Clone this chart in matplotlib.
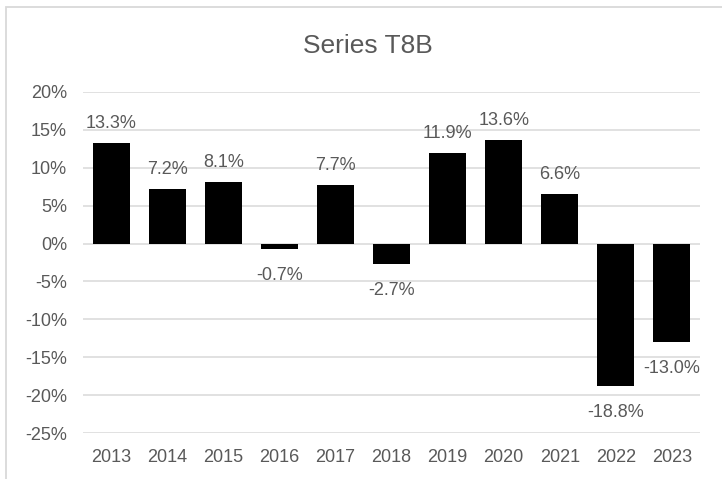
import matplotlib.pyplot as plt
import matplotlib.patches as patches
import numpy as np

plt.rcParams['font.family'] = ['Liberation Sans', 'DejaVu Sans']

anios = ['2013', '2014', '2015', '2016', '2017', '2018', '2019', '2020', '2021', '2022', '2023']
valores = [13.3, 7.2, 8.1, -0.7, 7.7, -2.7, 11.9, 13.6, 6.6, -18.8, -13.0]
marcas_y = [20, 15, 10, 5, 0, -5, -10, -15, -20, -25]

gris = '#595959'
gris_claro = '#d9d9d9'

fig = plt.figure(figsize=(7.22, 4.79), dpi=100)
ax = fig.add_axes([83 / 722, 1 - 433 / 479, 617 / 722, 341 / 479])

x = np.arange(len(anios))
ax.bar(x, valores, width=0.66, color='black', zorder=3)

for xi, v in zip(x, valores):
    if v >= 0:
        ax.annotate(f'{v:.1f}%', (xi, v), xytext=(0, 15), textcoords='offset pixels',
                    ha='center', va='baseline', fontsize=13, color=gris)
    else:
        ax.annotate(f'{v:.1f}%', (xi, v), xytext=(0, -31), textcoords='offset pixels',
                    ha='center', va='baseline', fontsize=13, color=gris)

ax.set_xlim(-0.5, len(anios) - 0.5)
ax.set_ylim(-25, 20)
ax.set_yticks(marcas_y)
ax.set_yticklabels([f'{m}%' for m in marcas_y])
ax.set_xticks(x)
ax.set_xticklabels(anios)
ax.tick_params(axis='both', length=0, labelsize=13, labelcolor=gris)
ax.tick_params(axis='y', pad=11.5)
ax.tick_params(axis='x', pad=11.5)
ax.grid(axis='y', color=gris_claro, linewidth=1.1, zorder=0)
for s in ax.spines.values():
    s.set_visible(False)

fig.text(0.5 * (303 + 433) / 722, 1 - 53 / 479, 'Series T8B', ha='center', va='baseline',
         fontsize=19, color=gris)

borde = patches.Rectangle((6 / 722, -0.1), 1.2, 1.1 - 7 / 479, transform=fig.transFigure,
                          fill=False, edgecolor=gris_claro, linewidth=1.3, clip_on=False)
fig.patches.append(borde)

fig.savefig('out.png', dpi=100)
